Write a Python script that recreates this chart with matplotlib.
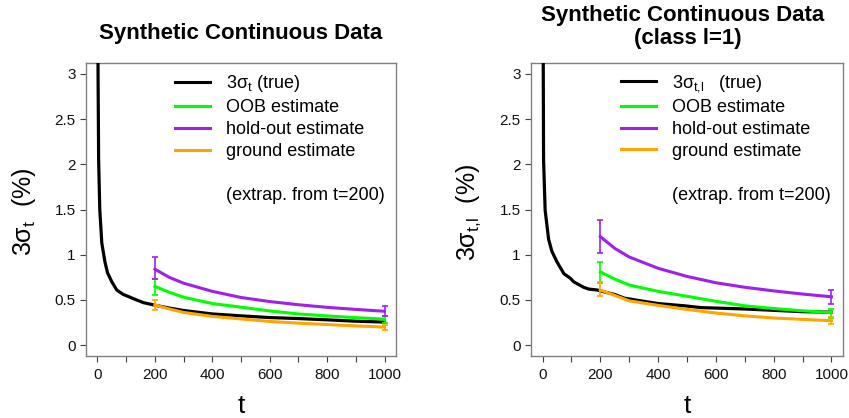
import numpy as np
import matplotlib
matplotlib.use("Agg")
import matplotlib.pyplot as plt
from matplotlib.lines import Line2D

plt.rcParams['font.family'] = ['Liberation Sans', 'DejaVu Sans']
plt.rcParams['mathtext.fontset'] = 'custom'
plt.rcParams['mathtext.rm'] = 'Liberation Sans'
plt.rcParams['mathtext.it'] = 'Liberation Sans:italic'
plt.rcParams['mathtext.bf'] = 'Liberation Sans:bold'

# ---- data ----
# panel A: all classes
t_true_a = [1, 2, 4, 8, 15, 26, 35, 50, 67, 90, 102, 136, 160, 194, 250, 300,
            400, 500, 600, 700, 800, 900, 1000]
true_a = [4.2, 3.0, 2.05, 1.5, 1.13, 0.92, 0.80, 0.70, 0.61, 0.56, 0.545, 0.50,
          0.47, 0.446, 0.41, 0.383, 0.345, 0.324, 0.305, 0.294, 0.28, 0.265, 0.255]

# panel B: class l=1
t_true_b = [1, 2, 3.5, 9, 21, 32, 50, 61, 74, 96, 108, 142, 160, 189, 200, 250,
            283, 340, 400, 491, 550, 600, 700, 800, 900, 1000]
true_b = [5.0, 3.5, 2.05, 1.49, 1.17, 1.04, 0.92, 0.86, 0.79, 0.74, 0.70, 0.64,
          0.62, 0.61, 0.60, 0.56, 0.52, 0.49, 0.46, 0.435, 0.415, 0.41, 0.40,
          0.385, 0.37, 0.365]

# extrapolated curves from t=200
t_ext = [200, 250, 300, 400, 500, 600, 700, 800, 900, 1000]
oob_a = [0.65, 0.585, 0.53, 0.46, 0.42, 0.378, 0.345, 0.323, 0.304, 0.288]
hold_a = [0.84, 0.75, 0.685, 0.595, 0.527, 0.482, 0.447, 0.418, 0.395, 0.375]
ground_a = [0.445, 0.40, 0.362, 0.318, 0.29, 0.262, 0.243, 0.228, 0.213, 0.20]

oob_b = [0.81, 0.73, 0.665, 0.595, 0.54, 0.485, 0.435, 0.405, 0.38, 0.36]
hold_b = [1.20, 1.07, 0.975, 0.85, 0.76, 0.69, 0.64, 0.60, 0.565, 0.535]
ground_b = [0.61, 0.55, 0.49, 0.44, 0.395, 0.355, 0.324, 0.30, 0.285, 0.27]

# error bars at t=200 and t=1000 (low, high)
t_err = [200, 1000]
oob_a_lo, oob_a_hi = [0.56, 0.25], [0.73, 0.32]
hold_a_lo, hold_a_hi = [0.73, 0.32], [0.97, 0.43]
ground_a_lo, ground_a_hi = [0.39, 0.17], [0.50, 0.22]

oob_b_lo, oob_b_hi = [0.69, 0.305], [0.92, 0.40]
hold_b_lo, hold_b_hi = [1.02, 0.45], [1.38, 0.61]
ground_b_lo, ground_b_hi = [0.54, 0.23], [0.70, 0.31]

x_ticks = list(range(0, 1001, 100))
x_ticklabels = [str(v) if v % 200 == 0 else '' for v in x_ticks]
y_ticks = [0, 0.5, 1, 1.5, 2, 2.5, 3]
y_ticklabels = ['0', '0.5', '1', '1.5', '2', '2.5', '3']

GREEN = '#00ff00'
PURPLE = '#a020f0'
ORANGE = '#ffa500'

W, H = 849, 418
fig = plt.figure(figsize=(W / 100, H / 100), dpi=100)


def panel(left_px, right_px, t_true, true, oob, hold, ground, errs, true_label):
    ax = fig.add_axes([left_px / W, (H - 356) / H, (right_px - left_px) / W, 293 / H])
    ax.plot(t_true, true, color='black', lw=2.3, zorder=3)
    for vals, col, (lo, hi) in zip([oob, hold, ground], [GREEN, PURPLE, ORANGE], errs):
        ax.plot(t_ext, vals, color=col, lw=2.2, zorder=4)
        mid = [vals[0], vals[-1]]
        ax.errorbar(t_err, mid, yerr=[np.subtract(mid, lo), np.subtract(hi, mid)],
                    fmt='none', ecolor=col, elinewidth=1.2, capsize=2.2,
                    capthick=1.2, zorder=5)
    ax.set_xlim(-40, 1040)
    ax.set_ylim(-0.12, 3.12)
    ax.set_xticks(x_ticks)
    ax.set_xticklabels(x_ticklabels)
    ax.set_yticks(y_ticks)
    ax.set_yticklabels(y_ticklabels)
    ax.tick_params(axis='both', direction='out', length=4.5, width=0.8,
                   color='#404040', labelsize=11, labelcolor='#111111')
    ax.tick_params(axis='x', pad=4)
    ax.tick_params(axis='y', pad=3)
    for s in ax.spines.values():
        s.set_color('#808080')
        s.set_linewidth(1.0)

    handles = [Line2D([], [], color=c, lw=2.2) for c in ['black', GREEN, PURPLE, ORANGE]]
    labels = [true_label, 'OOB estimate', 'hold-out estimate', 'ground estimate']
    ax.legend(handles, labels, loc='upper left', bbox_to_anchor=(0.287, 0.965),
              frameon=False, fontsize=13, borderpad=0, borderaxespad=0,
              handlelength=1.94, handletextpad=0.89, labelspacing=0.27)
    ax.text(0.452, 0.549, '(extrap. from t=200)', transform=ax.transAxes,
            fontsize=13, va='center', ha='left')
    return ax


panel(86, 396, t_true_a, true_a, oob_a, hold_a, ground_a,
      [(oob_a_lo, oob_a_hi), (hold_a_lo, hold_a_hi), (ground_a_lo, ground_a_hi)],
      r'3$\mathregular{\sigma_t}$ (true)')
panel(531, 843, t_true_b, true_b, oob_b, hold_b, ground_b,
      [(oob_b_lo, oob_b_hi), (hold_b_lo, hold_b_hi), (ground_b_lo, ground_b_hi)],
      r'3$\mathregular{\sigma_{t{,}l}}$   (true)')

# titles
fig.text(241 / W, 1 - 39.3 / H, 'Synthetic Continuous Data', ha='center',
         va='baseline', fontsize=16, fontweight='bold')
fig.text(683 / W, 1 - 21.5 / H, 'Synthetic Continuous Data', ha='center',
         va='baseline', fontsize=16, fontweight='bold')
fig.text(688 / W, 1 - 44 / H, '(class l=1)', ha='center',
         va='baseline', fontsize=16, fontweight='bold')

# axis labels
fig.text(24 / W, 1 - 212 / H, r'3$\mathregular{\sigma_t}$  (%)', rotation=90,
         ha='center', va='center', fontsize=18)
fig.text(469 / W, 1 - 212 / H, r'3$\mathregular{\sigma_{t{,}l}}$  (%)', rotation=90,
         ha='center', va='center', fontsize=18)
fig.text(241 / W, 1 - 412.7 / H, 't', ha='center', va='baseline', fontsize=19)
fig.text(687 / W, 1 - 412.7 / H, 't', ha='center', va='baseline', fontsize=19)

fig.savefig('out.png', dpi=100)
